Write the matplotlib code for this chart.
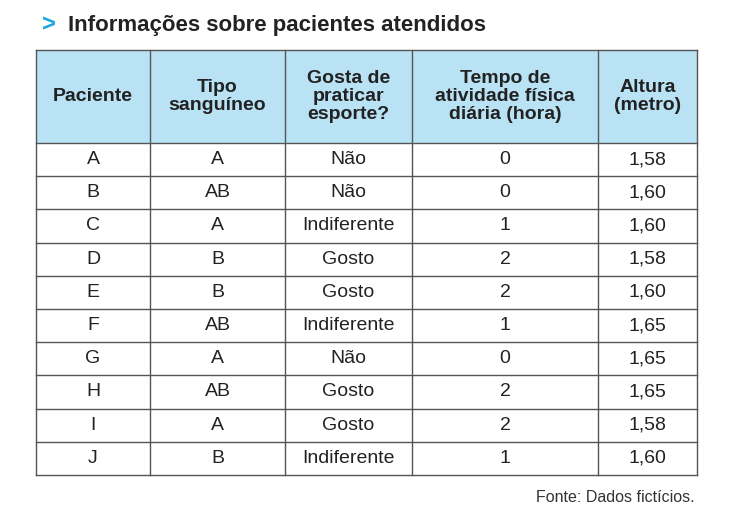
import matplotlib.pyplot as plt

headers = ["Paciente", "Tipo\nsanguíneo", "Gosta de\npraticar\nesporte?",
           "Tempo de\natividade física\ndiária (hora)", "Altura\n(metro)"]
pacientes = ["A", "B", "C", "D", "E", "F", "G", "H", "I", "J"]
tipos = ["A", "AB", "A", "B", "B", "AB", "A", "AB", "A", "B"]
esporte = ["Não", "Não", "Indiferente", "Gosto", "Gosto", "Indiferente",
           "Não", "Gosto", "Gosto", "Indiferente"]
tempo = ["0", "0", "1", "2", "2", "1", "0", "2", "2", "1"]
altura = ["1,58", "1,60", "1,60", "1,58", "1,60", "1,65", "1,65", "1,65", "1,58", "1,60"]

plt.rcParams['font.family'] = ['Liberation Sans', 'DejaVu Sans']

fig = plt.figure(figsize=(7.41, 5.28), dpi=100)
ax = fig.add_axes([0, 0, 1, 1])
ax.set_xlim(0, 741)
ax.set_ylim(528, 0)
ax.axis("off")

cols = [36, 150, 285, 412, 598, 697]
top, head_bot, bottom = 50, 143, 475
row_h = (bottom - head_bot) / len(pacientes)
line_c = "#555555"

ax.add_patch(plt.Rectangle((cols[0], top), cols[-1] - cols[0], head_bot - top,
                           facecolor="#b9e3f5", edgecolor="none"))
for x in cols:
    ax.plot([x, x], [top, bottom], color=line_c, lw=1)
for i in range(len(pacientes) + 1):
    y = head_bot + i * row_h
    ax.plot([cols[0], cols[-1]], [y, y], color=line_c, lw=1)
ax.plot([cols[0], cols[-1]], [top, top], color=line_c, lw=1)

for j, h in enumerate(headers):
    ax.text((cols[j] + cols[j + 1]) / 2, (top + head_bot) / 2, h, ha="center",
            va="center", fontsize=14, fontweight="bold", color="#222222",
            linespacing=1.1)

columns = [pacientes, tipos, esporte, tempo, altura]
for j, col in enumerate(columns):
    for i, v in enumerate(col):
        ax.text((cols[j] + cols[j + 1]) / 2, head_bot + (i + 0.5) * row_h, v,
                ha="center", va="center", fontsize=14, color="#222222")

ax.text(42, 25, ">", color="#1aa7e0", fontsize=17, fontweight="bold",
        ha="left", va="center")
ax.text(68, 25, "Informações sobre pacientes atendidos", color="#222222",
        fontsize=16, fontweight="bold", ha="left", va="center")
ax.text(695, 498, "Fonte: Dados fictícios.", fontsize=11.5, color="#333333",
        ha="right", va="center")

fig.savefig("out.png", dpi=100)
